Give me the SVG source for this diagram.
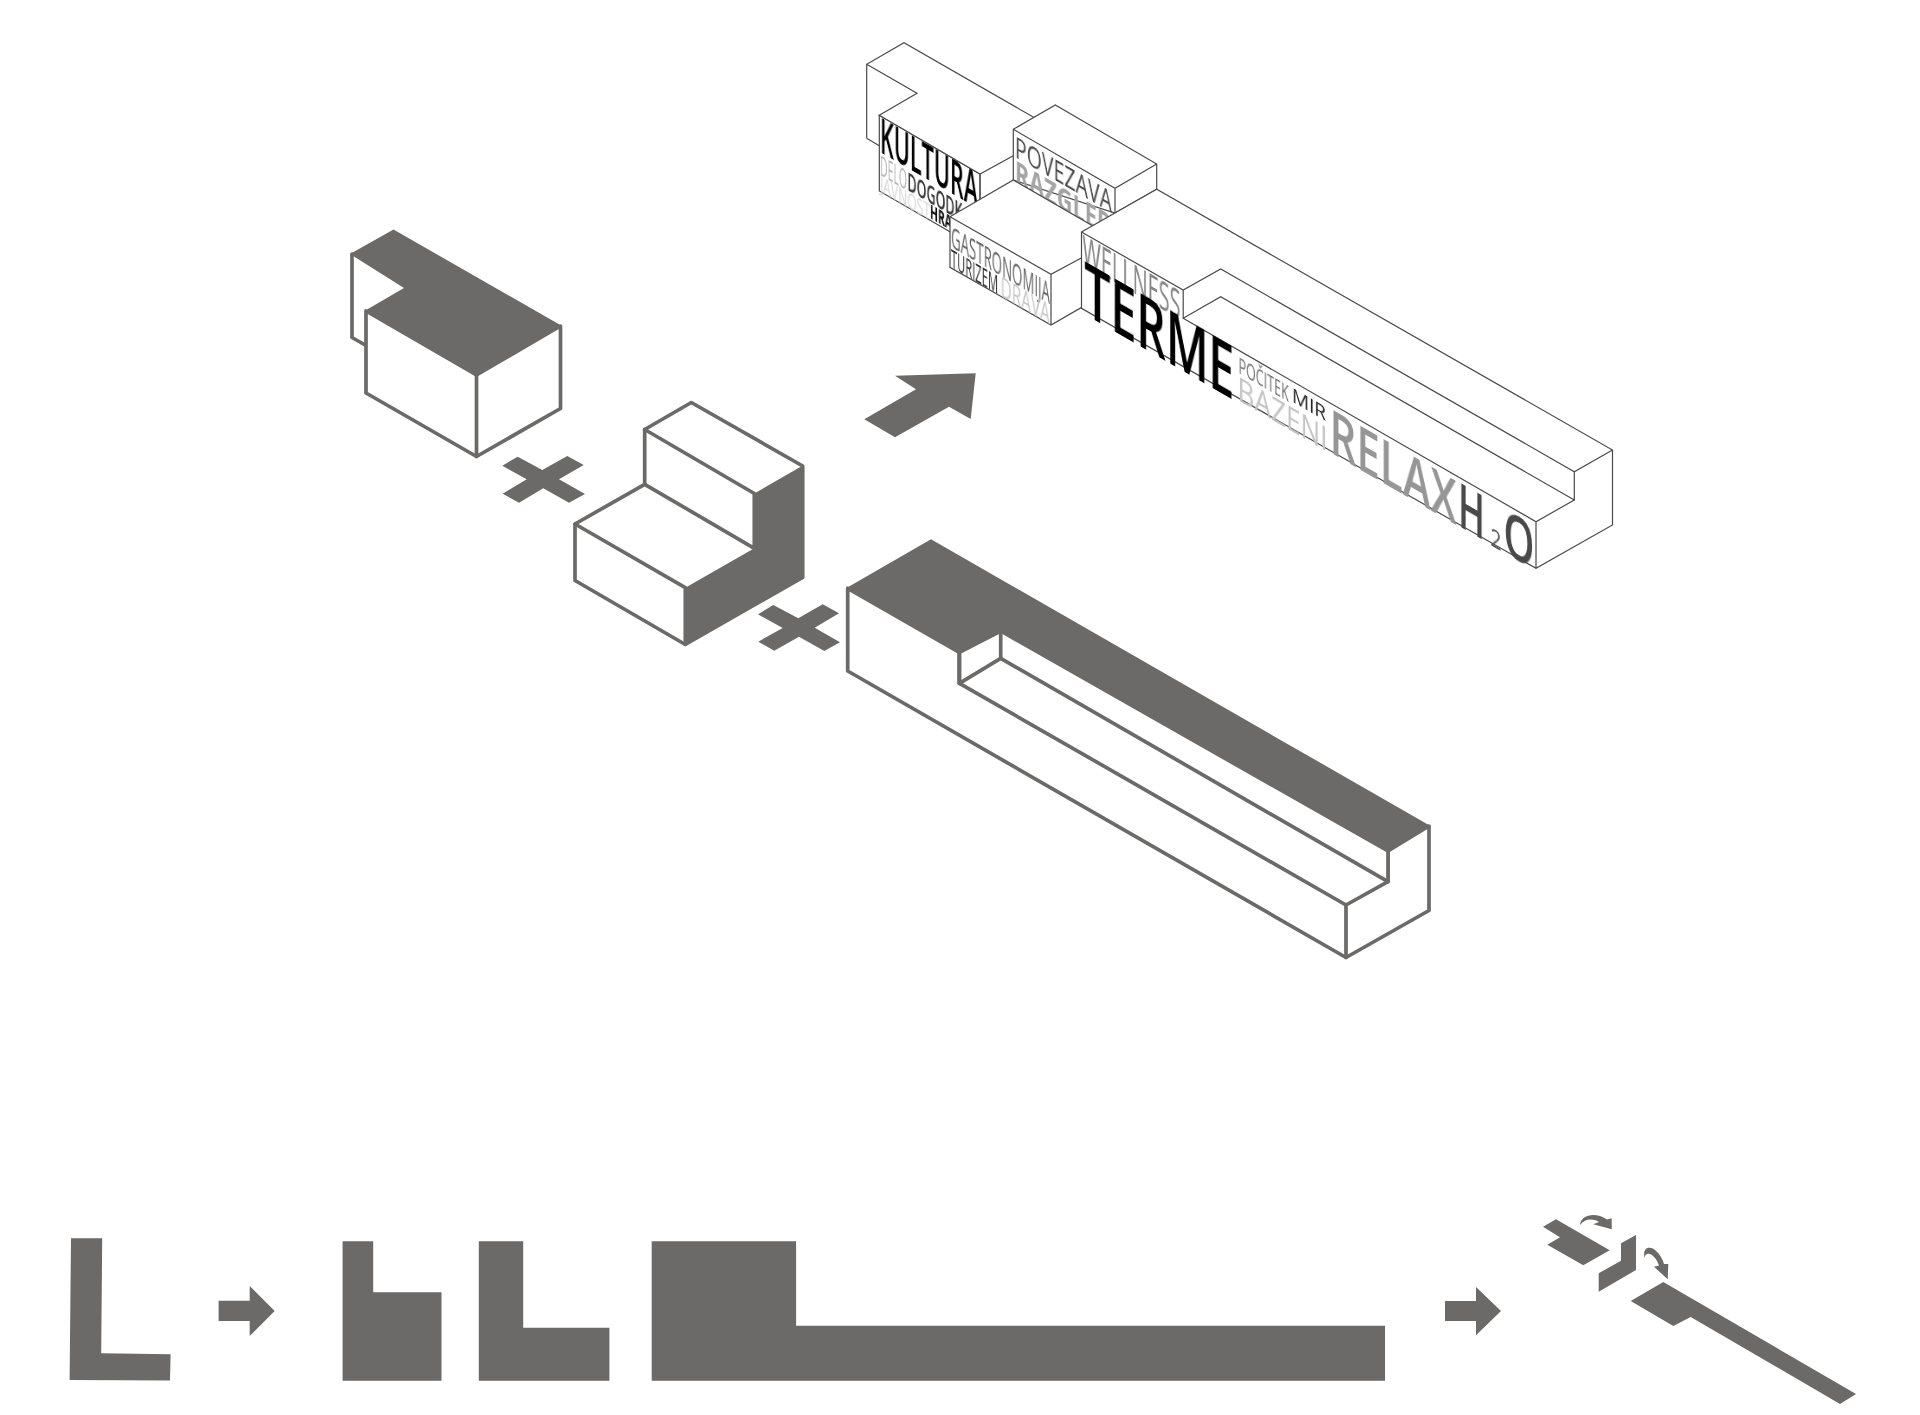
<svg xmlns="http://www.w3.org/2000/svg" width="1920" height="1415" viewBox="0 0 1920 1415">
<defs><filter id="soft" x="-10%" y="-20%" width="120%" height="140%"><feGaussianBlur stdDeviation="0.3"/></filter></defs>
<style>
.f{fill:#6b6a68;stroke:none}
.w{fill:#fff;stroke:#6b6a68;stroke-width:3.7;stroke-linejoin:round;stroke-linecap:round}
.l{fill:none;stroke:#6b6a68;stroke-width:3.7;stroke-linejoin:round;stroke-linecap:round}
.tw{fill:#fff;stroke:#4a4a4a;stroke-width:1.2;stroke-linejoin:miter}
.tl{fill:none;stroke:#4a4a4a;stroke-width:1.2}
text{font-family:"Open Sans","Noto Sans","DejaVu Sans",sans-serif;stroke:none;filter:url(#soft)}
</style>
<rect width="1920" height="1415" fill="#fff"/>

<g id="block-l">
<path class="l" d="M352 254V337.500L366 345.500"/>
<path class="w" d="M366 311V393L476.500 456.500L560.500 408.500V326L476.500 375Z"/>
<path class="f" d="M350 254L393.500 229.500L562 326L476.500 376L364.500 311L404 288Z"/>
<path class="l" d="M476.500 375V456.500"/>
</g>
<g id="plus-1"><polygon class="f" points="502.300,465.700 517.700,456.700 542.300,470 567.300,456 583.700,465 559,479.300 585,494 569,502.700 543.300,488.300 519,502.700 502.700,493.700 526.700,479.300"/></g>
<g id="block-step">
<path class="w" d="M644.700 429.500L691.300 402.500L802.700 466V577.300L685.300 644.500L575 580.500V524L644.700 484.300Z"/>
<path class="f" d="M754.300 493.500L802 466H803V577.500L685.300 645V587.700L754.300 548.300Z"/>
<path class="l" d="M644.700 429.500L754.300 493.500V548.300M644.700 484.300L754.300 548.300M575 524L685.300 587.700V644"/>
</g>
<g id="plus-2"><polygon class="f" points="758,614.300 773.300,605 798.300,618.300 822.700,604.300 839,613.300 814.700,627.700 840,642.300 824.300,651 799,636.700 774.300,650.700 758.300,641.700 782.700,628"/></g>
<g id="block-long">
<path class="w" d="M847.700 588.300V671L1346 957.500L1429 910.500V826L1388 851V881.700L1346 905L959.400 683.300V652.300Z"/>
<path class="w" d="M959.400 652.300L1000.700 631L1388 851V881.700L1000.700 658.300L959.400 683.300Z"/>
<path class="f" d="M846 588.300L931 539.300L1430.500 826L1388 851L1000.700 631L959.400 652.300Z"/>
<path class="l" d="M1000.700 631V658.300M1346 905V957.500M959.400 652.300V683.300"/>
</g>
<g id="arrow-big"><polygon class="f" points="895,375.700 975.700,373.300 970.700,419 949,406.700 895,437.300 864.300,419.300 916,389.300"/></g>

<g id="massing-kultura">
<path class="tw" d="M879.300 115.300V191L950 231.700L980 205V174Z"/>
<path d="M904 42.700L1040 121L1013.300 155.700L980 174L879.300 115.300L917 93.300L866.700 64.300Z" fill="#fff" stroke="none"/>
<path class="tl" d="M866.700 138.300V64.300L904 42.700L1034 117.500M866.700 64.300L917 93.300L879.300 115.300L980 174L1013.300 155.700M866.700 138.300L879.300 145.800M980 174V205"/>
<text transform="matrix(1 .577 0 1 880 152)" font-size="48" textLength="98" lengthAdjust="spacingAndGlyphs" font-weight="600" fill="#000">KULTURA</text>
<text transform="matrix(1 .577 0 1 880 175)" font-size="27" textLength="27" lengthAdjust="spacingAndGlyphs" fill="#b5b5b5">DELO</text>
<text transform="matrix(1 .577 0 1 907.500 190)" font-size="25" textLength="55" lengthAdjust="spacingAndGlyphs" font-weight="600" fill="#333">DOGODK</text>
<text transform="matrix(1 .577 0 1 880 191.500)" font-size="22" textLength="50" lengthAdjust="spacingAndGlyphs" fill="#d8d8d8">JAVNOST</text>
<text transform="matrix(1 .577 0 1 930 218)" font-size="20" textLength="22" lengthAdjust="spacingAndGlyphs" font-weight="700" fill="#111">HRA</text>
</g>

<g id="massing-povezava">
<path class="tw" d="M1013.300 129.300L1055.300 105L1156.700 164V189.300L1115 213L1013.300 180Z"/>
<path class="tl" d="M1013.300 129.300L1115 188.300L1156.700 164M1115 188.300V213"/>
<text transform="matrix(1 .577 0 1 1015 157)" font-size="30" textLength="97" lengthAdjust="spacingAndGlyphs" font-weight="500" fill="#484848">POVEZAVA</text>
<text transform="matrix(1 .577 0 1 1015 183)" font-size="33" textLength="98" lengthAdjust="spacingAndGlyphs" font-weight="700" fill="#a4a4a4">RAZGLED</text>
</g>

<g id="massing-gastronomija">
<path class="tw" d="M950 216.700L1013.300 180L1115 238.700L1081.700 257.700V307.300L1051 325L950 267.300Z"/>
<path class="tl" d="M950 216.700L1051 274.300L1081.700 257.700M1051 274.300V325"/>
<text transform="matrix(1 .577 0 1 951 247)" font-size="29" textLength="99" lengthAdjust="spacingAndGlyphs" font-weight="500" fill="#666">GASTRONOMIJA</text>
<text transform="matrix(1 .577 0 1 951 267)" font-size="26" textLength="47" lengthAdjust="spacingAndGlyphs" font-weight="500" fill="#333">TURIZEM</text>
<text transform="matrix(1 .577 0 1 1000.700 296)" font-size="27" textLength="49" lengthAdjust="spacingAndGlyphs" fill="#c8c8c8">DRAVA</text>
</g>

<g id="massing-terme">
<path class="tw" d="M1081.500 232L1156.700 189.300L1612.500 450V525L1536 568.300L1081.500 308.300Z"/>
<path class="tl" d="M1081.500 232L1183.200 290L1220.700 269L1574.300 471.700L1612.500 450M1183.200 290V318.300L1220.700 296.700L1574.300 500V471.700M1183.200 318.300L1536 521.700L1574.300 500M1536 521.700V568.300"/>
<text transform="matrix(1 .577 0 1 1082.500 263.500)" font-size="40" textLength="98" lengthAdjust="spacingAndGlyphs" font-weight="500" fill="#858585">WELLNESS</text>
<text transform="matrix(1 .577 0 1 1084.300 314)" font-size="74" textLength="150" lengthAdjust="spacingAndGlyphs" font-weight="600" fill="#000">TERME</text>
<text transform="matrix(1 .577 0 1 1238.600 373)" font-size="21" textLength="50" lengthAdjust="spacingAndGlyphs" fill="#707070">POČITEK</text>
<text transform="matrix(1 .577 0 1 1292 401.500)" font-size="20" textLength="34" lengthAdjust="spacingAndGlyphs" font-weight="500" fill="#222">MIR</text>
<text transform="matrix(1 .577 0 1 1237.500 400)" font-size="32" textLength="90" lengthAdjust="spacingAndGlyphs" font-weight="500" fill="#c4c4c4">BAZENI</text>
<text transform="matrix(1 .577 0 1 1329.600 452)" font-size="61" textLength="127" lengthAdjust="spacingAndGlyphs" font-weight="600" fill="#969696">RELAX</text>
<text transform="matrix(1 .577 0 1 1458 525.500)" font-size="61" textLength="27" lengthAdjust="spacingAndGlyphs" font-weight="600" fill="#484848">H</text>
<text transform="matrix(1 .577 0 1 1490.400 545)" font-size="26" textLength="11" lengthAdjust="spacingAndGlyphs" fill="#555">2</text>
<text transform="matrix(1 .577 0 1 1503.500 552)" font-size="61" textLength="31" lengthAdjust="spacingAndGlyphs" font-weight="600" fill="#484848">O</text>
</g>

<g id="plan-l"><polygon class="f" points="71,1238.300 102.200,1238.300 101.200,1353.300 170.600,1354.300 170,1380.500 69.600,1380"/></g>
<g id="arrow-small-1"><polygon class="f" points="218.600,1300.700 249.700,1300.700 249.700,1286 274.700,1311 249.700,1336 249.700,1321 218.600,1321"/></g>
<g id="plan-a"><polygon class="f" points="342.600,1241.300 373.200,1241.300 373.200,1292.300 441.500,1292.300 441.500,1380.700 342.600,1380.700"/></g>
<g id="plan-b"><polygon class="f" points="478.800,1241.300 523.200,1241.300 523.200,1327.700 609.400,1327.700 609.400,1380.700 478.800,1380.700"/></g>
<g id="plan-c"><polygon class="f" points="651.700,1241.300 796.100,1241.300 796.100,1325.700 1385,1325.700 1385,1380.700 651.700,1380.700"/></g>
<g id="arrow-small-2"><polygon class="f" points="1445,1301 1476,1301 1476,1287 1501,1311 1476,1335.300 1476,1321 1445,1321"/></g>
<g id="iso-pieces">
<polygon class="f" points="1543,1226.700 1556,1219.300 1609.700,1250.300 1583.300,1265.300 1547.300,1244.700 1560,1237.300"/>
<polygon class="f" points="1636,1235 1636,1270 1598.700,1291.700 1598.700,1273.300 1621,1260.700 1621,1243.300"/>
<polygon class="f" points="1663.300,1282 1856,1394 1840,1404 1690.700,1317 1673.300,1326 1630.700,1301"/>
<path class="f" d="M1580 1225C1581 1214 1596 1212 1607 1219.500L1611.700 1218.300V1229.300L1593.300 1224.300L1599 1222C1592 1218 1585 1219 1580 1225Z"/>
<path class="f" d="M1644.700 1258.300C1642 1247 1650 1246 1655 1250C1660 1254 1663 1260 1664 1264L1668.300 1264L1667.700 1279.300L1654 1266.700L1659 1265.500C1657 1259 1651 1252 1647 1254C1645 1255 1645 1256 1644.700 1258.300Z"/>
</g>
</svg>
